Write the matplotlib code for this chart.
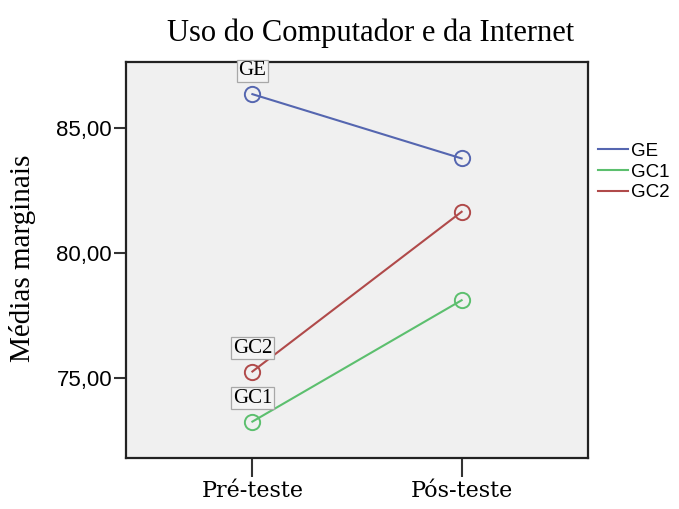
import matplotlib
matplotlib.use("Agg")
import matplotlib.pyplot as plt

# dados
momentos = ["Pré-teste", "Pós-teste"]
grupos = ["GE", "GC1", "GC2"]
ge = [86.37, 83.79]
gc1 = [73.23, 78.10]
gc2 = [75.24, 81.65]
y_ticks = [75.0, 80.0, 85.0]

cores = {"GE": "#5566b0", "GC1": "#5cbf6e", "GC2": "#b04a4a"}
series = {"GE": ge, "GC1": gc1, "GC2": gc2}

W, H = 679, 509
fig = plt.figure(figsize=(W / 100, H / 100), dpi=100)
ax = fig.add_axes([126 / W, 1 - 458 / H, 462 / W, 396 / H])
ax.set_facecolor("#f0f0f0")

x = list(range(len(momentos)))
for g in grupos:
    ax.plot(x, series[g], color=cores[g], linewidth=1.5, label=g)
    ax.plot(x, series[g], linestyle="none", marker="o", markersize=11,
            markerfacecolor="none", markeredgecolor=cores[g], markeredgewidth=1.4)

for g in grupos:
    ax.annotate(g, (x[0], series[g][0]), xytext=(0, 10), textcoords="offset points",
                ha="center", va="bottom", fontsize=15, family="Liberation Serif",
                bbox=dict(boxstyle="square,pad=0.08", facecolor="#f4f4f4",
                          edgecolor="#a8a8a8", linewidth=0.9))

ax.set_xlim(-0.604, 1.604)
ax.set_ylim(71.77, 87.66)
ax.set_xticks(x)
ax.set_xticklabels(momentos, fontsize=16, family="DejaVu Serif")
ax.set_yticks(y_ticks)
ax.set_yticklabels([f"{v:.2f}".replace(".", ",") for v in y_ticks],
                   fontsize=16, family="Liberation Sans")
ax.tick_params(axis="both", direction="out", width=1.5, color="#333333")
ax.tick_params(axis="x", length=14, pad=2)
ax.tick_params(axis="y", length=9, pad=1)
for s in ax.spines.values():
    s.set_linewidth(1.6)
    s.set_color("#222222")

fig.text(22 / W, 1 - 258 / H, "Médias marginais", rotation=90, ha="center",
         va="center", fontsize=21, family="Liberation Serif")
fig.text(371 / W, 1 - 41 / H, "Uso do Computador e da Internet", ha="center",
         va="baseline", fontsize=22, family="Liberation Serif")

leg = ax.legend(loc="center left", bbox_to_anchor=((598 - 126) / 462, (458 - 172) / 396),
                frameon=False, prop={"family": "Liberation Sans", "size": 13.5},
                handlelength=1.6, handletextpad=0.15, borderaxespad=0, borderpad=0,
                labelspacing=0.2)

fig.savefig("out.png", dpi=100)
